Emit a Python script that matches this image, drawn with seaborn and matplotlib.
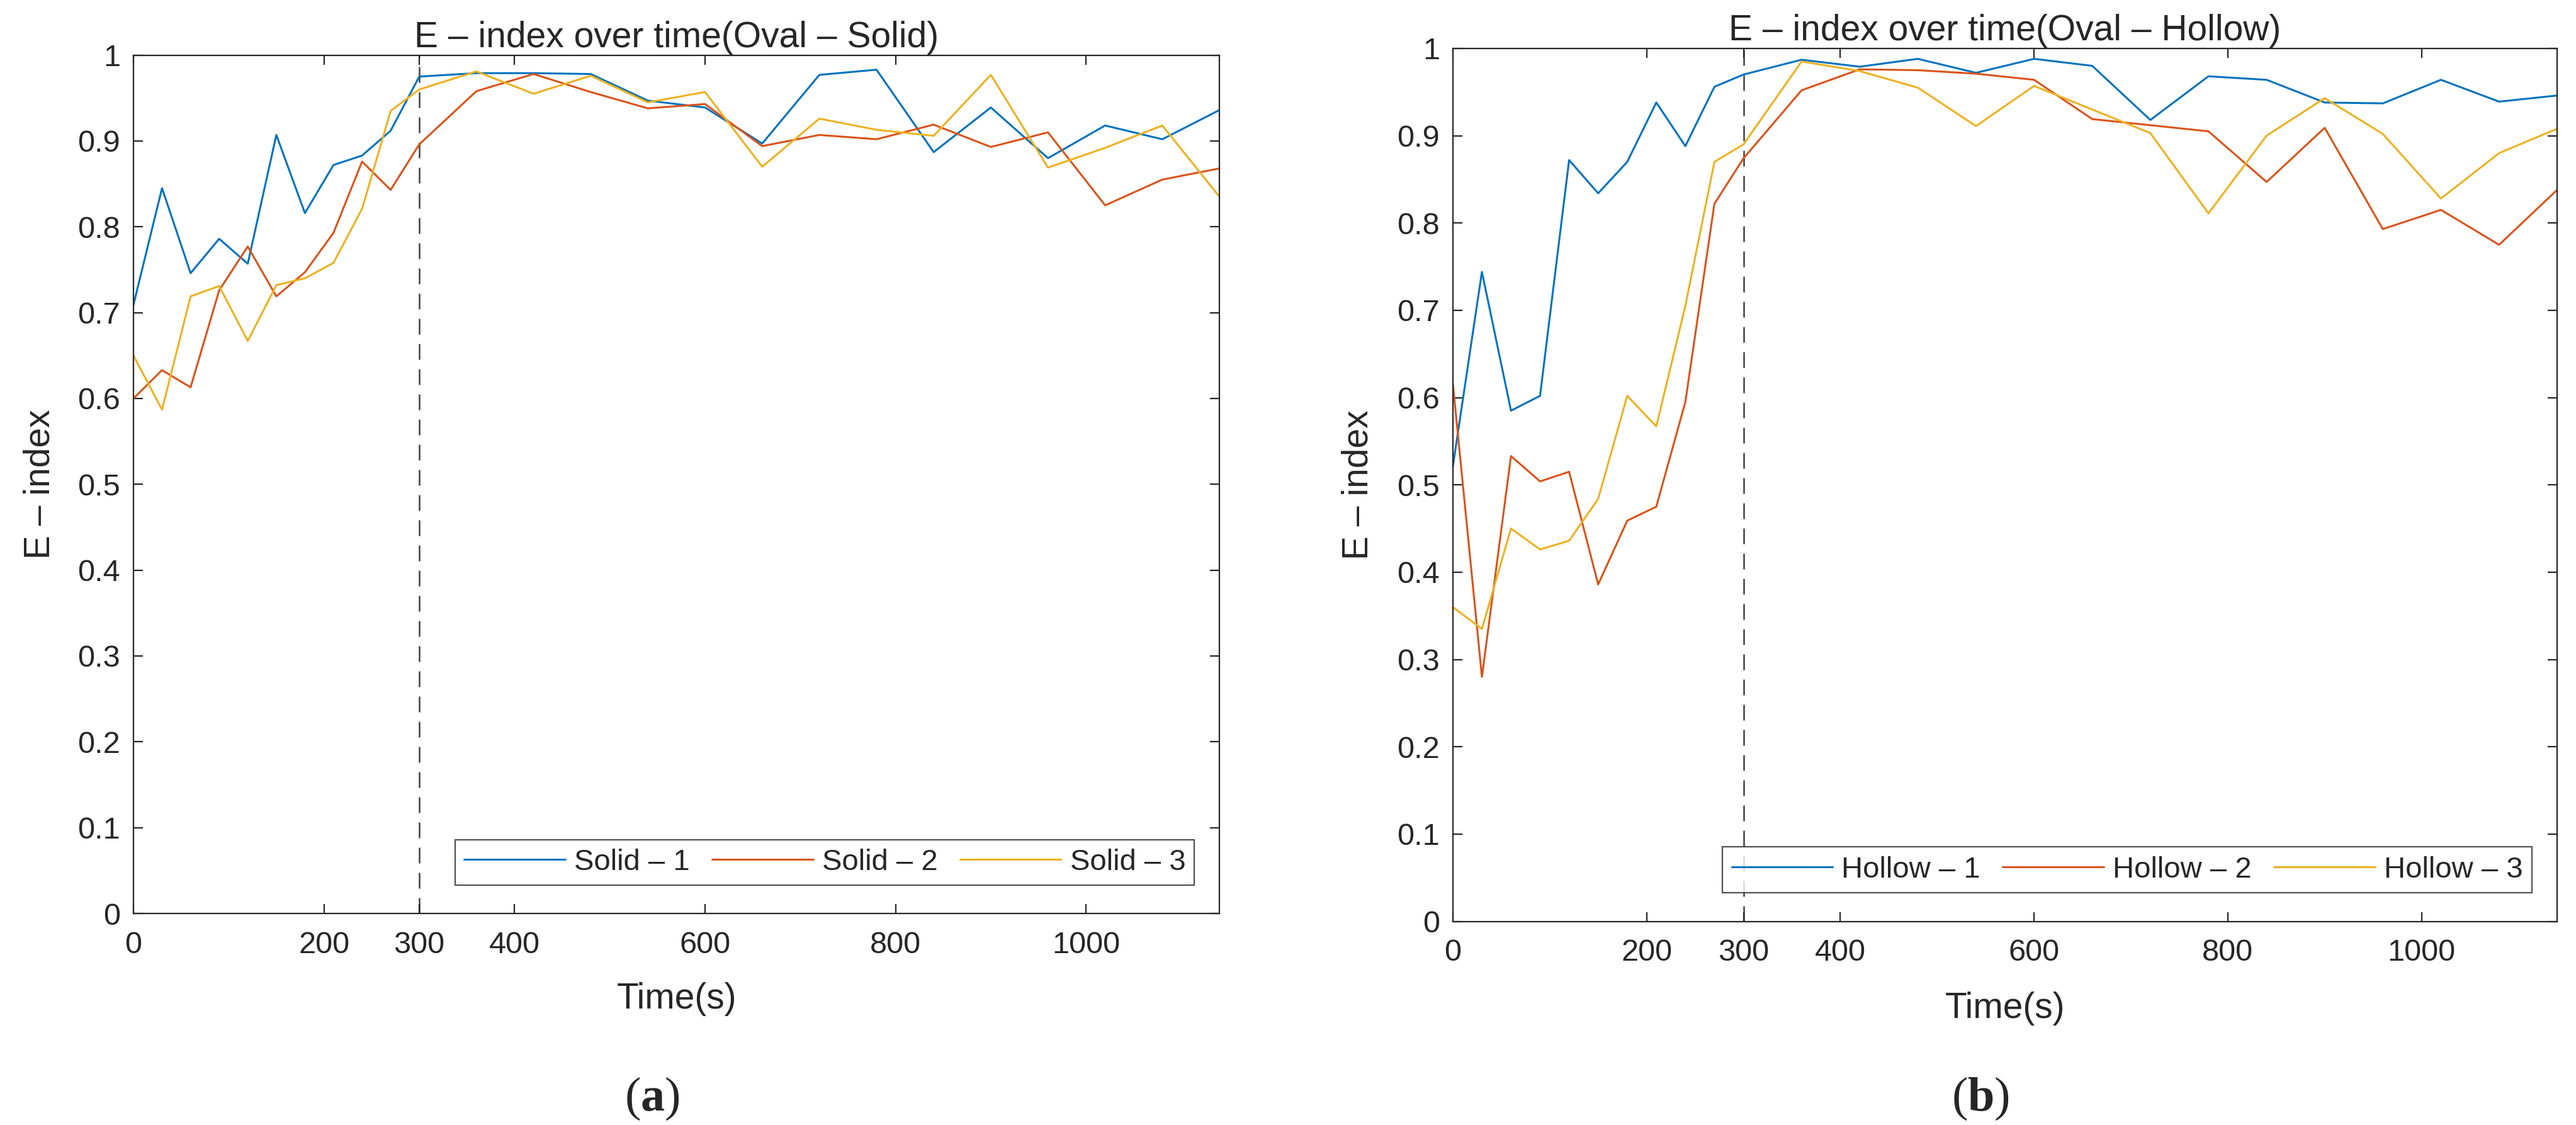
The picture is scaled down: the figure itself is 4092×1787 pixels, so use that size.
#E-index over time, solid vs hollow oval
import numpy as np
import pandas as pd
import seaborn as sns
import matplotlib.pyplot as plt

# sampling times: every 30 s up to 300 s, then every 60 s
time = [0, 30, 60, 90, 120, 150, 180, 210, 240, 270, 300,
        360, 420, 480, 540, 600, 660, 720, 780, 840, 900, 960, 1020, 1080, 1140]

solid_1 = [0.709, 0.845, 0.746, 0.786, 0.757, 0.907, 0.816, 0.872, 0.883, 0.912, 0.975,
           0.979, 0.979, 0.978, 0.947, 0.939, 0.897, 0.977, 0.983, 0.887, 0.939, 0.880, 0.918, 0.902, 0.936]
solid_2 = [0.600, 0.633, 0.613, 0.726, 0.777, 0.719, 0.747, 0.793, 0.876, 0.843, 0.896,
           0.958, 0.978, 0.957, 0.938, 0.943, 0.894, 0.907, 0.902, 0.919, 0.893, 0.910, 0.825, 0.855, 0.868]
solid_3 = [0.650, 0.587, 0.719, 0.731, 0.667, 0.732, 0.740, 0.758, 0.821, 0.935, 0.960,
           0.981, 0.955, 0.976, 0.945, 0.957, 0.870, 0.926, 0.913, 0.906, 0.977, 0.869, 0.892, 0.918, 0.835]

hollow_1 = [0.521, 0.744, 0.585, 0.602, 0.872, 0.834, 0.870, 0.938, 0.888, 0.956, 0.970,
            0.987, 0.979, 0.988, 0.972, 0.988, 0.980, 0.918, 0.968, 0.964, 0.938, 0.937, 0.964, 0.939, 0.946]
hollow_2 = [0.616, 0.280, 0.533, 0.504, 0.515, 0.386, 0.459, 0.475, 0.595, 0.822, 0.874,
            0.952, 0.976, 0.975, 0.971, 0.964, 0.919, 0.912, 0.905, 0.847, 0.909, 0.793, 0.815, 0.775, 0.838]
hollow_3 = [0.360, 0.335, 0.450, 0.426, 0.436, 0.484, 0.602, 0.567, 0.705, 0.870, 0.890,
            0.985, 0.974, 0.955, 0.911, 0.957, 0.930, 0.903, 0.811, 0.900, 0.943, 0.902, 0.828, 0.880, 0.908]

xticks = [0, 200, 300, 400, 600, 800, 1000]
yticks = np.round(np.arange(0, 1.01, 0.1), 1)
ytick_labels = ["0"] + ["%.1f" % v for v in yticks[1:-1]] + ["1"]

colors = ["#0072BD", "#D95319", "#EDB120"]

sns.set_theme(style="ticks")
plt.rcParams['font.family'] = ['Liberation Sans', 'DejaVu Sans']
plt.rcParams['axes.edgecolor'] = '#262626'
plt.rcParams['axes.linewidth'] = 1.6
plt.rcParams['mathtext.fontset'] = 'custom'
plt.rcParams['mathtext.rm'] = 'Liberation Serif'
plt.rcParams['mathtext.bf'] = 'Liberation Serif:bold'

fig = plt.figure(figsize=(40.92, 17.87), dpi=100)
ax1 = fig.add_axes([0.0518, 0.188, 0.4216, 0.763])
ax2 = fig.add_axes([0.564, 0.181, 0.4287, 0.776])


def draw(ax, series, names, title):
    df = pd.concat([pd.DataFrame({"Time": time, "E": s, "name": n}) for s, n in zip(series, names)])
    sns.lineplot(data=df, x="Time", y="E", hue="name", palette=colors, linewidth=2.2, ax=ax)
    ax.axvline(300, color="#404040", linestyle=(0, (10, 6)), linewidth=1.8, zorder=0)
    ax.set_xlim(0, 1140)
    ax.set_ylim(0, 1)
    ax.set_xticks(xticks)
    ax.set_yticks(yticks)
    ax.set_yticklabels(ytick_labels)
    ax.tick_params(direction="in", top=True, right=True, length=11, width=1.6,
                   labelsize=35, colors="#262626")
    ax.tick_params(axis="x", pad=20)
    ax.tick_params(axis="y", pad=15)
    ax.set_xlabel("Time(s)", fontsize=41)
    ax.set_ylabel("E – index", fontsize=41)
    ax.xaxis.set_label_coords(0.5, -0.10)
    ax.xaxis.label.set_va("center")
    ax.yaxis.set_label_coords(-0.086, 0.5)
    ax.yaxis.label.set_va("center")
    ax.set_title(title, fontsize=41, pad=9)
    h, l = ax.get_legend_handles_labels()
    leg = ax.legend(h, l, ncol=3, loc="lower right", fontsize=34, frameon=True, fancybox=False,
                    edgecolor="#262626", handlelength=3.4, columnspacing=0.75, handletextpad=0.3,
                    borderpad=0.3, borderaxespad=0, bbox_to_anchor=(0.977, 0.033))
    leg.get_frame().set_linewidth(1.6)


draw(ax1, [solid_1, solid_2, solid_3], ["Solid – 1", "Solid – 2", "Solid – 3"], "E – index over time(Oval – Solid)")
draw(ax2, [hollow_1, hollow_2, hollow_3], ["Hollow – 1", "Hollow – 2", "Hollow – 3"], "E – index over time(Oval – Hollow)")

fig.text(0.2532, 0.0129, r"($\mathbf{a}$)", family="Liberation Serif", fontsize=55, ha="center", va="baseline")
fig.text(0.7688, 0.0129, r"($\mathbf{b}$)", family="Liberation Serif", fontsize=55, ha="center", va="baseline")

fig.savefig("out.png", dpi=100, facecolor="white")
